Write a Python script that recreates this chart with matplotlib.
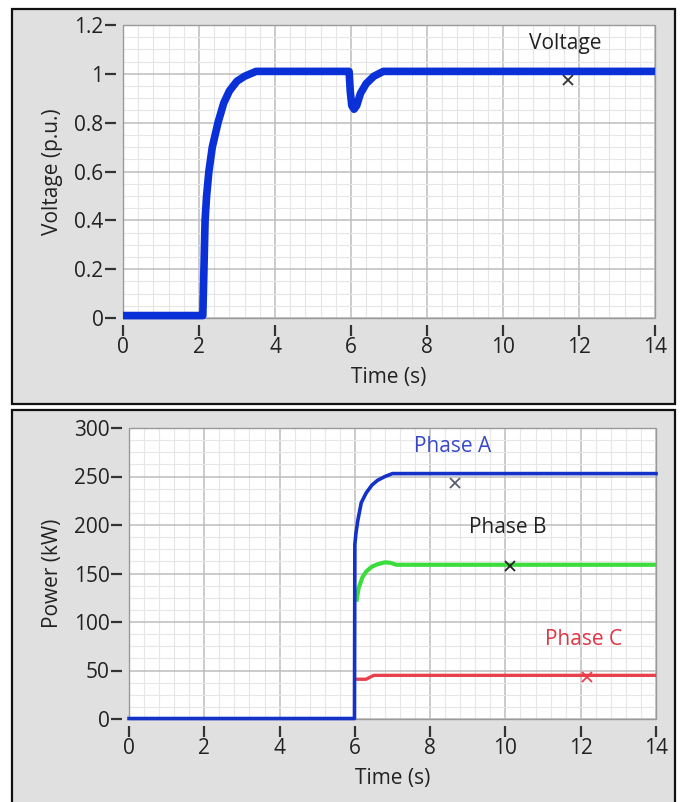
import numpy as np
import matplotlib
matplotlib.use('Agg')
import matplotlib.pyplot as plt
from matplotlib.patches import Rectangle
from matplotlib.ticker import MultipleLocator

plt.rcParams['font.family'] = ['Open Sans', 'DejaVu Sans']

# ---- data ----
# top panel: voltage
time_v    = [0, 2.1, 2.13, 2.16, 2.2, 2.26, 2.35, 2.5, 2.65, 2.8, 3.0, 3.2, 3.5,
             5.95, 5.98, 6.02, 6.08, 6.15, 6.25, 6.4, 6.6, 6.85, 14]
voltage   = [0.01, 0.01, 0.2, 0.4, 0.5, 0.6, 0.7, 0.8, 0.88, 0.93, 0.97, 0.99, 1.01,
             1.01, 0.93, 0.87, 0.855, 0.87, 0.92, 0.96, 0.99, 1.01, 1.01]
v_cursor  = (11.7, 0.975)

# bottom panel: power per phase
time_a    = [0, 5.99, 6.0, 6.03, 6.08, 6.17, 6.3, 6.45, 6.6, 6.8, 7.0, 14]
phase_a   = [0.5, 0.5, 180, 192, 205, 223, 233, 241, 246, 250, 253, 253]
time_b    = [6.05, 6.1, 6.2, 6.3, 6.45, 6.6, 6.8, 6.95, 7.1, 14]
phase_b   = [123, 135, 146, 152, 157, 159.5, 161.5, 161, 159, 159]
time_c    = [6.02, 6.3, 6.4, 6.5, 14]
phase_c   = [41, 41, 43, 45, 45]
a_cursor  = (8.65, 243)
b_cursor  = (10.12, 158)
c_cursor  = (12.16, 43.5)

x_ticks   = [0, 2, 4, 6, 8, 10, 12, 14]
v_ticks   = [0, 0.2, 0.4, 0.6, 0.8, 1.0, 1.2]
v_labels  = ['0', '0.2', '0.4', '0.6', '0.8', '1', '1.2']
p_ticks   = [0, 50, 100, 150, 200, 250, 300]
p_labels  = ['0', '50', '100', '150', '200', '250', '300']

W, H = 683, 802
PANEL = '#e0e0e0'
FS = 15


def fx(px):
    return px / W


def fy(py):
    return 1 - py / H


def style_axes(ax, yticks, ylabels, ymax, yminor):
    ax.set_facecolor('white')
    ax.set_xlim(0, 14)
    ax.set_ylim(0, ymax)
    ax.set_xticks(x_ticks)
    ax.set_xticklabels([str(t) for t in x_ticks])
    ax.set_yticks(yticks)
    ax.set_yticklabels(ylabels)
    ax.xaxis.set_minor_locator(MultipleLocator(0.4))
    ax.yaxis.set_minor_locator(MultipleLocator(yminor))
    ax.grid(which='minor', color='#e6e6e6', linewidth=0.8)
    ax.grid(which='major', color='#bdbdbd', linewidth=1.1)
    ax.set_axisbelow(True)
    # scales sit a little away from the plot area, like LabVIEW
    for s in ['left', 'bottom']:
        ax.spines[s].set_position(('outward', 5))
        ax.spines[s].set_color('none')
    for s in ['top', 'right']:
        ax.spines[s].set_visible(False)
    ax.add_patch(Rectangle((0, 0), 1, 1, transform=ax.transAxes, fill=False,
                           edgecolor='#9a9a9a', linewidth=1.0, zorder=2,
                           clip_on=False))
    ax.tick_params(axis='x', which='major', direction='out', length=8, width=1.6,
                   color='#333333', labelsize=FS, labelcolor='#222222', pad=1)
    ax.tick_params(axis='y', which='major', direction='out', length=8, width=1.6,
                   color='#333333', labelsize=FS, labelcolor='#222222', pad=1)
    ax.tick_params(which='minor', length=0)


fig = plt.figure(figsize=(W / 100, H / 100), dpi=100)
fig.patch.set_facecolor('white')

# panel boxes, kept behind the axes
for (y0, y1) in [(9, 404), (410, 812)]:
    fig.patches.append(Rectangle((fx(12), fy(y1)), fx(675) - fx(12), fy(y0) - fy(y1),
                                 transform=fig.transFigure, facecolor=PANEL,
                                 edgecolor='#111111', linewidth=1.6, zorder=-5))

# ---- top: voltage ----
ax1 = fig.add_axes([fx(123), fy(318), fx(655) - fx(123), fy(25) - fy(318)])
style_axes(ax1, v_ticks, v_labels, 1.2, 0.05)
ax1.plot(time_v, voltage, color='#0a30d8', linewidth=5.5, solid_capstyle='butt',
         solid_joinstyle='round', zorder=6, clip_on=False)
ax1.plot(*v_cursor, marker='x', color='#333333', markersize=7, mew=1.3, zorder=7)
ax1.text(11.65, 1.126, 'Voltage', fontsize=FS, color='#222222', ha='center', va='center')
ax1.set_xlabel('Time (s)', fontsize=FS, color='#222222', labelpad=6)
ax1.set_ylabel('Voltage (p.u.)', fontsize=FS, color='#222222', labelpad=8)

# ---- bottom: power ----
ax2 = fig.add_axes([fx(129), fy(719), fx(656) - fx(129), fy(428) - fy(719)])
style_axes(ax2, p_ticks, p_labels, 300, 12.5)
ax2.plot(time_c, phase_c, color='#e8404c', linewidth=2.4, zorder=6)
ax2.plot(time_b, phase_b, color='#3ddc3d', linewidth=3.0, zorder=6)
ax2.plot(time_a, phase_a, color='#1432c8', linewidth=2.6, zorder=6, clip_on=False)
ax2.plot(*a_cursor, marker='x', color='#5a6070', markersize=7, mew=1.3, zorder=7)
ax2.plot(*b_cursor, marker='x', color='#222222', markersize=7, mew=1.3, zorder=7)
ax2.plot(*c_cursor, marker='x', color='#e8404c', markersize=7, mew=1.3, zorder=7)
ax2.text(8.6, 281, 'Phase A', fontsize=FS, color='#3848c8', ha='center', va='center')
ax2.text(10.05, 197, 'Phase B', fontsize=FS, color='#222222', ha='center', va='center')
ax2.text(12.08, 82, 'Phase C', fontsize=FS, color='#e03545', ha='center', va='center')
ax2.set_xlabel('Time (s)', fontsize=FS, color='#222222', labelpad=6)
ax2.set_ylabel('Power (kW)', fontsize=FS, color='#222222', labelpad=8)

fig.savefig('out.png', dpi=100)
